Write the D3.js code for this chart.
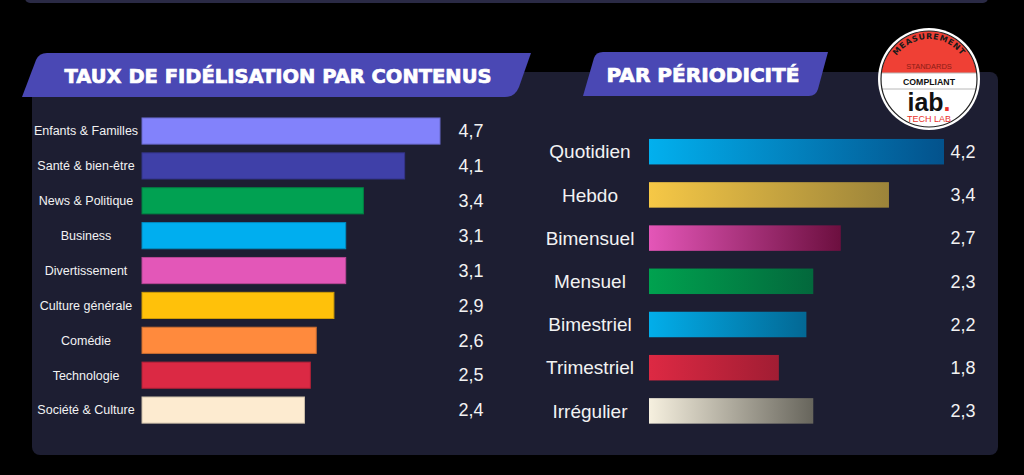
<!DOCTYPE html>
<meta charset="utf-8">
<script src="https://d3js.org/d3.v7.min.js"></script>
<style>
  body { margin: 0; background: #000; }
  text { font-family: "Liberation Sans", Arial, Helvetica, sans-serif; }
</style>
<div id="chart"></div>
<script>

// taux de fidélisation par contenus
var contentCats = ["Enfants & Familles", "Santé & bien-être", "News & Politique", "Business",
  "Divertissement", "Culture générale", "Comédie", "Technologie", "Société & Culture"];
var contentValues = [4.7, 4.1, 3.4, 3.1, 3.1, 2.9, 2.6, 2.5, 2.4];
var contentColors = ["#8282fb", "#3f40a8", "#01a152", "#00aeef", "#e357b8", "#ffc10a",
  "#ff8a3d", "#db2944", "#fdebd0"];

// par périodicité
var periodCats = ["Quotidien", "Hebdo", "Bimensuel", "Mensuel", "Bimestriel", "Trimestriel", "Irrégulier"];
var periodValues = [4.2, 3.4, 2.7, 2.3, 2.2, 1.8, 2.3];
var periodStart = ["#02b0ee", "#f6c846", "#e456b8", "#00a24f", "#02aeea", "#dd2943", "#f6f0df"];
var periodEnd = ["#03528c", "#9c843a", "#6c0f3f", "#03683c", "#036894", "#a11d33", "#67655c"];

var width = 1024, height = 475;
var fmt = function(v) { return v.toFixed(1).replace(".", ","); };

var svg = d3.select("#chart")
  .append("svg")
  .attr("width", width)
  .attr("height", height);

var defs = svg.append("defs");

// top strip + panel
svg.append("rect")
  .attr("x", 25).attr("y", -10).attr("width", 963).attr("height", 13).attr("rx", 5)
  .attr("fill", "#2a2a45");

svg.append("rect")
  .attr("x", 32).attr("y", 72).attr("width", 966).attr("height", 383).attr("rx", 8)
  .attr("fill", "#1d1e32");

// title banners
svg.append("path")
  .attr("d", "M22,97 L36,60 Q39,53 47,53 L531,53 L519,87 Q515,97 505,97 Z")
  .attr("fill", "#4a48b4");
svg.append("path")
  .attr("d", "M583,96 L594,58 Q596,52 603,52 L828,52 L818,89 Q816,96 809,96 Z")
  .attr("fill", "#4a48b4");

function title(x, y, len, txt) {
  svg.append("text")
    .attr("x", x).attr("y", y)
    .attr("text-anchor", "middle")
    .attr("textLength", len).attr("lengthAdjust", "spacingAndGlyphs")
    .style("font-family", "'DejaVu Sans', sans-serif")
    .style("font-weight", "bold").style("font-size", "19px")
    .attr("fill", "#fff").attr("stroke", "#fff").attr("stroke-width", 0.7)
    .text(txt);
}
title(278, 83, 427, "TAUX DE FIDÉLISATION PAR CONTENUS");
title(703, 82, 193, "PAR PÉRIODICITÉ");

// ---- left chart (bars start at 142, the picture's own scale is not strictly zero-based)
var x0L = 142;
var xL = d3.scaleLinear().domain([0, 4.7]).range([163, 440]);
var yL = d3.scaleBand().domain(contentCats).range([113.6, 427.5])
  .paddingInner(0.25).paddingOuter(0.125);

var left = svg.append("g");

left.selectAll("rect.bar")
  .data(contentCats)
  .enter()
  .append("rect")
  .attr("class", "bar")
  .attr("x", x0L)
  .attr("y", function(d) { return yL(d); })
  .attr("width", function(d, i) { return xL(contentValues[i]) - x0L; })
  .attr("height", yL.bandwidth())
  .attr("fill", function(d, i) { return contentColors[i]; })
  .attr("stroke", function(d, i) { return d3.color(contentColors[i]).darker(0.6); })
  .attr("stroke-width", 1);

left.selectAll("text.lab")
  .data(contentCats)
  .enter()
  .append("text")
  .attr("class", "lab")
  .attr("x", 86)
  .attr("y", function(d) { return yL(d) + yL.bandwidth() / 2; })
  .attr("dy", "0.35em")
  .attr("text-anchor", "middle")
  .style("font-size", "12.5px")
  .attr("fill", "#f2f2f2")
  .text(function(d) { return d; });

left.selectAll("text.val")
  .data(contentValues)
  .enter()
  .append("text")
  .attr("class", "val")
  .attr("x", 471)
  .attr("y", function(d, i) { return yL(contentCats[i]) + yL.bandwidth() / 2; })
  .attr("dy", "0.35em")
  .attr("text-anchor", "middle")
  .style("font-size", "18px")
  .attr("fill", "#f2f2f2")
  .text(fmt);

// ---- right chart
var x0R = 649;
var xR = d3.scaleLinear().domain([0, 4.2]).range([655, 944]);
var yR = d3.scaleBand().domain(periodCats).range([126, 436.6])
  .paddingInner(0.41).paddingOuter(0.3);

periodCats.forEach(function(c, i) {
  var g = defs.append("linearGradient")
    .attr("id", "grad" + i)
    .attr("x1", 0).attr("x2", 1).attr("y1", 0).attr("y2", 0);
  g.append("stop").attr("offset", "0%").attr("stop-color", periodStart[i]);
  g.append("stop").attr("offset", "100%").attr("stop-color", periodEnd[i]);
});

var right = svg.append("g");

right.selectAll("rect.bar")
  .data(periodCats)
  .enter()
  .append("rect")
  .attr("class", "bar")
  .attr("x", x0R)
  .attr("y", function(d) { return yR(d); })
  .attr("width", function(d, i) { return xR(periodValues[i]) - x0R; })
  .attr("height", yR.bandwidth())
  .attr("fill", function(d, i) { return "url(#grad" + i + ")"; });

right.selectAll("text.lab")
  .data(periodCats)
  .enter()
  .append("text")
  .attr("class", "lab")
  .attr("x", 590)
  .attr("y", function(d) { return yR(d) + yR.bandwidth() / 2; })
  .attr("dy", "0.35em")
  .attr("text-anchor", "middle")
  .style("font-size", "19px")
  .attr("fill", "#f2f2f2")
  .text(function(d) { return d; });

right.selectAll("text.val")
  .data(periodValues)
  .enter()
  .append("text")
  .attr("class", "val")
  .attr("x", 963)
  .attr("y", function(d, i) { return yR(periodCats[i]) + yR.bandwidth() / 2; })
  .attr("dy", "0.35em")
  .attr("text-anchor", "middle")
  .style("font-size", "18px")
  .attr("fill", "#f2f2f2")
  .text(fmt);

// ---- iab badge
var cx = 929, cy = 79, r = 51;
var badge = svg.append("g");

defs.append("clipPath").attr("id", "inner")
  .append("circle").attr("cx", cx).attr("cy", cy).attr("r", r - 3);

badge.append("circle").attr("cx", cx).attr("cy", cy).attr("r", r).attr("fill", "#fff");
badge.append("rect")
  .attr("x", cx - r).attr("y", cy - r).attr("width", 2 * r).attr("height", 73 - (cy - r))
  .attr("fill", "#ef4035")
  .attr("clip-path", "url(#inner)");
badge.selectAll("line.sep")
  .data([73, 89])
  .enter()
  .append("line")
  .attr("x1", cx - r).attr("x2", cx + r)
  .attr("y1", function(d) { return d; }).attr("y2", function(d) { return d; })
  .attr("stroke", "#b8b8b8").attr("stroke-width", 1)
  .attr("clip-path", "url(#inner)");
badge.append("circle").attr("cx", cx).attr("cy", cy).attr("r", r - 3)
  .attr("fill", "none").attr("stroke", "#222").attr("stroke-width", 1.2);

var ar = 40, a = 56 * Math.PI / 180;
defs.append("path").attr("id", "arcText")
  .attr("d", "M" + (cx - ar * Math.sin(a)) + "," + (cy - ar * Math.cos(a)) +
    " A" + ar + "," + ar + " 0 0 1 " + (cx + ar * Math.sin(a)) + "," + (cy - ar * Math.cos(a)));
badge.append("text")
  .style("font-family", "'DejaVu Sans', sans-serif")
  .style("font-weight", "bold").style("font-size", "8px")
  .style("letter-spacing", "0.6px")
  .attr("fill", "#1a1a1a")
  .append("textPath")
  .attr("href", "#arcText")
  .attr("startOffset", "50%")
  .attr("text-anchor", "middle")
  .text("MEASUREMENT");

badge.append("text")
  .attr("x", cx).attr("y", 69).attr("text-anchor", "middle")
  .style("font-size", "7.5px").attr("fill", "#8c1d16")
  .text("STANDARDS");
badge.append("text")
  .attr("x", cx).attr("y", 85).attr("text-anchor", "middle")
  .attr("textLength", 52).attr("lengthAdjust", "spacingAndGlyphs")
  .style("font-size", "8.5px").style("font-weight", "bold").attr("fill", "#111")
  .text("COMPLIANT");
var iab = badge.append("text")
  .attr("x", cx).attr("y", 111).attr("text-anchor", "middle")
  .style("font-size", "25px").style("font-weight", "bold").attr("fill", "#111")
  .attr("textLength", 43).attr("lengthAdjust", "spacingAndGlyphs");
iab.append("tspan").text("iab");
iab.append("tspan").attr("fill", "#e8312a").text(".");
badge.append("text")
  .attr("x", cx).attr("y", 122).attr("text-anchor", "middle")
  .style("font-size", "9px").attr("fill", "#e8312a")
  .text("TECH LAB");

</script>
